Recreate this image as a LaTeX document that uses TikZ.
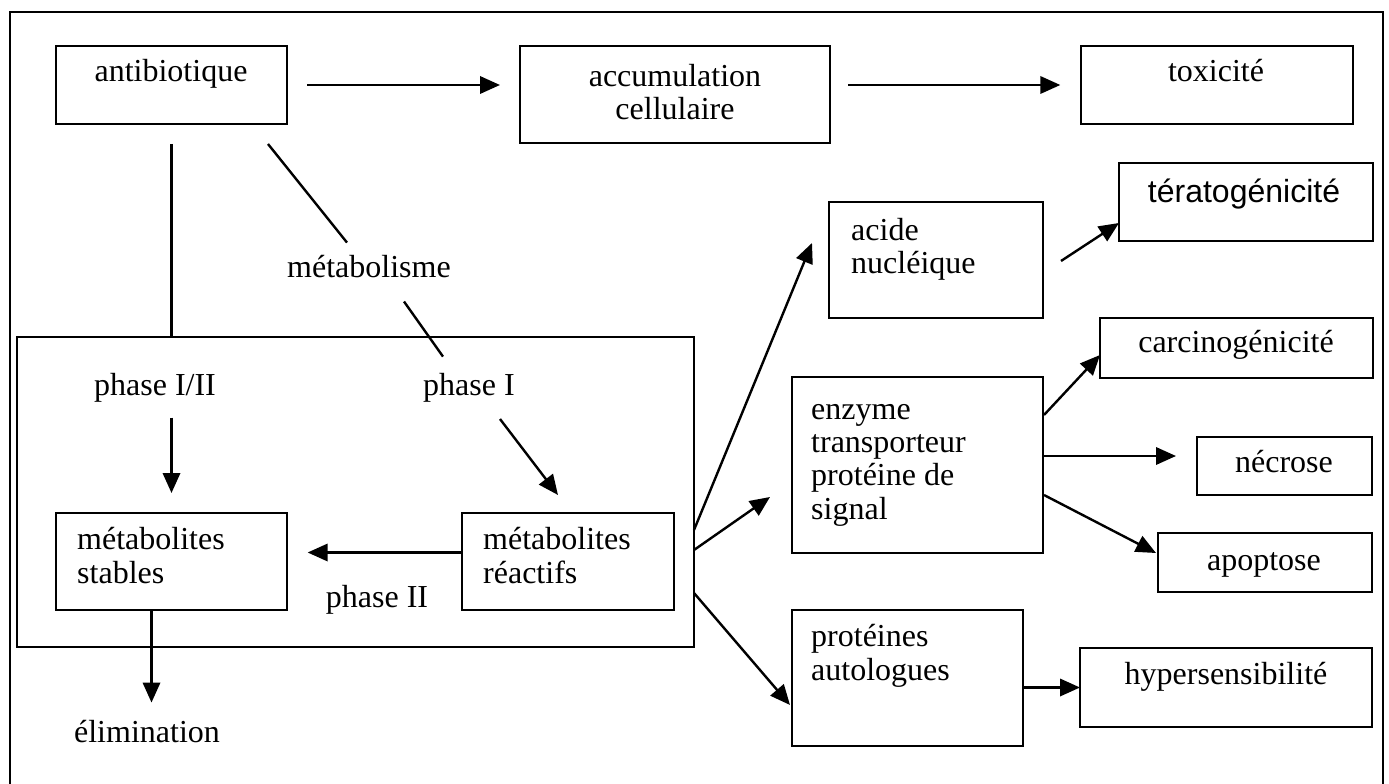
\documentclass[tikz,border=0pt]{standalone}
\usepackage{fontspec}
\setmainfont{Liberation Serif}
\newfontfamily\sansfont{Liberation Sans}
\usetikzlibrary{arrows.meta}

\tikzset{every picture/.style={line width=1.8pt}}
\tikzset{
  box/.style n args={2}{draw, inner sep=0pt, outer sep=0pt, anchor=north west, minimum width=#1, minimum height=#2},
  txt/.style={inner sep=0pt, font=\fontsize{24}{25}\selectfont},
  arr/.style={-{Triangle[length=15pt,width=13pt]}},
}

\begin{document}
\begin{tikzpicture}[x=0.75pt,y=0.75pt,yscale=-1,xscale=1]
\useasboundingbox (0,0) rectangle (1389,784);

%Shape: Rectangle (frame)
\draw (10,12) rectangle (1383,800);

%Shape: Rectangles
\node [box={173.25pt}{58.5pt}] (anti) at (56,46) {};
\node [box={232.5pt}{72.75pt}] (accum) at (520,46) {};
\node [box={204pt}{58.5pt}] (toxi) at (1081,46) {};
\node [box={507.75pt}{232.5pt}] (phases) at (17,337) {};
\node [box={173.25pt}{72.75pt}] (stab) at (56,513) {};
\node [box={159pt}{72.75pt}] (reac) at (462,513) {};
\node [box={160.5pt}{87pt}] (acide) at (829,202) {};
\node [box={190.5pt}{58.5pt}] (terato) at (1119,163) {};
\node [box={204.75pt}{45pt}] (carcino) at (1100,318) {};
\node [box={188.25pt}{132pt}] (enzyme) at (792,377) {};
\node [box={131.25pt}{43.5pt}] (necrose) at (1197,437) {};
\node [box={160.5pt}{44.25pt}] (apopt) at (1158,533) {};
\node [box={173.25pt}{102pt}] (prot) at (792,610) {};
\node [box={219pt}{59.25pt}] (hyper) at (1080,648) {};

% Text Node
\node [txt, anchor=base] (antit) at (171,82) {antibiotique};
% Text Node
\node [txt, anchor=base, align=center] (accumt) at (675,120) {accumulation\\cellulaire};
% Text Node
\node [txt, anchor=base] (toxit) at (1216,82) {toxicité};
% Text Node
\node [txt, anchor=base, font=\sansfont\fontsize{24}{25}\selectfont] (teratot) at (1244,203) {tératogénicité};
% Text Node
\node [txt, anchor=base] (carcinot) at (1236,353) {carcinogénicité};
% Text Node
\node [txt, anchor=base] (necroset) at (1284,472) {nécrose};
% Text Node
\node [txt, anchor=base] (apoptt) at (1264,570) {apoptose};
% Text Node
\node [txt, anchor=base] (hypert) at (1226,684) {hypersensibilité};
% Text Node
\node [txt, anchor=base west, align=left] (acidet) at (850,274) {acide\\nucléique};
% Text Node
\node [txt, anchor=base west, align=left] (enzymet) at (810,519) {enzyme\\transporteur\\protéine de\\signal};
% Text Node
\node [txt, anchor=base west, align=left] (prott) at (810,680) {protéines\\autologues};
% Text Node
\node [txt, anchor=base west, align=left] (stabt) at (76,583) {métabolites\\stables};
% Text Node
\node [txt, anchor=base west, align=left] (react) at (482,583) {métabolites\\réactifs};
% Text Node
\node [txt, anchor=base] (metab) at (369,278) {métabolisme};
% Text Node
\node [txt, anchor=base] (ph12) at (155,395) {phase I/II};
% Text Node
\node [txt, anchor=base] (ph1) at (469,395) {phase I};
% Text Node
\node [txt, anchor=base] (ph2) at (377,607) {phase II};
% Text Node
\node [txt, anchor=base] (elim) at (147,742) {élimination};

%Straight Lines
\draw [arr, shorten <=15pt, shorten >=15pt] (anti.east) -- (anti.east -| accum.west);
\draw [arr, shorten <=13.5pt, shorten >=15.5pt] (accum.east |- toxi.west) -- (toxi.west);
\draw [shorten <=15pt] (anti.south) -- (anti.south |- phases.north);
\draw ([shift={(-19,20)}]anti.south east) -- ([shift={(-22,-12)}]metab.north);
\draw ([shift={(35,22)}]metab.south) -- ([shift={(-26,-15)}]ph1.north);
\draw [arr, shorten <=11pt, shorten >=15pt] (stab.north |- ph12.south) -- (stab.north);
\draw [arr] ([shift={(31,16)}]ph1.south) -- ([shift={(-10,-18)}]reac.north);
\draw [arr, shorten >=15.5pt] ([shift={(0,-9)}]reac.west) -- ([shift={(0,-9)}]stab.east);
\draw [arr, shorten >=12pt] ([shift={(-20,0)}]stab.south) -- ([shift={(-20,0)}]stab.south |- elim.north);
\draw [arr] ([shift={(0,38)}]phases.east) -- ([shift={(-17,-17)}]acide.west);
\draw [arr] ([shift={(0,58)}]phases.east) -- ([shift={(-22,32)}]enzyme.west);
\draw [arr] ([shift={(0,101)}]phases.east) -- ([shift={(-2,27)}]prot.west);
\draw [arr] ([shift={(18,1)}]acide.east) -- ([shift={(0,-18)}]terato.south west);
\draw [arr] ([shift={(1,38)}]enzyme.north east) -- ([shift={(0,7)}]carcino.west);
\draw [arr] ([shift={(1,-9)}]enzyme.east) -- ([shift={(-21,-10)}]necrose.west);
\draw [arr] ([shift={(1,30)}]enzyme.east) -- ([shift={(-2,20)}]apopt.north west);
\draw [arr] (prot.east |- hyper.west) -- (hyper.west);

\end{tikzpicture}
\end{document}
